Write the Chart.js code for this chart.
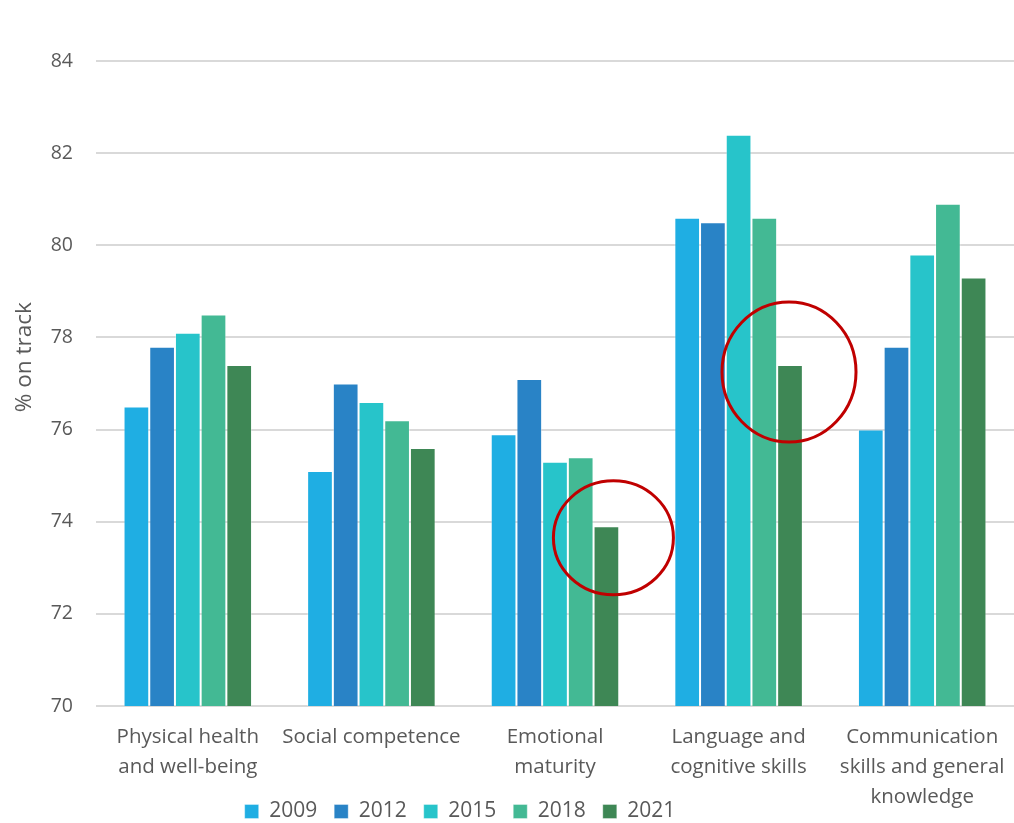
<!DOCTYPE html>
<html>
<head>
<meta charset="utf-8">
<script src="https://cdn.jsdelivr.net/npm/chart.js@4"></script>
<style>
  html, body { margin: 0; padding: 0; background: #fff; }
  #wrap { width: 1014px; height: 823px; }
</style>
</head>
<body>
<div id="wrap"><canvas id="domains"></canvas></div>
<script>
const domains = [
  ['Physical health', 'and well-being'],
  'Social competence',
  ['Emotional', 'maturity'],
  ['Language and', 'cognitive skills'],
  ['Communication', 'skills and general', 'knowledge']
];
const years = ['2009', '2012', '2015', '2018', '2021'];
const colors = ['#1FAEE3', '#2983C6', '#27C4CA', '#43B994', '#3E8755'];

const v2009 = [76.5, 75.1, 75.9, 80.6, 76.0];
const v2012 = [77.8, 77.0, 77.1, 80.5, 77.8];
const v2015 = [78.1, 76.6, 75.3, 82.4, 79.8];
const v2018 = [78.5, 76.2, 75.4, 80.6, 80.9];
const v2021 = [77.4, 75.6, 73.9, 77.4, 79.3];
const series = [v2009, v2012, v2015, v2018, v2021];

// red rings around the 2021 drops (domain index, centre value, px nudge)
const highlights = [
  { domain: 2, value: 73.65, dx: 7, rx: 60, ry: 57 },
  { domain: 3, value: 77.25, dx: -1, rx: 67, ry: 70 }
];

const TEXT = '#595959';
const FONT = '"Open Sans", "Liberation Sans", sans-serif';

const rings = {
  id: 'rings',
  afterDatasetsDraw(chart) {
    const { ctx, scales } = chart;
    const meta = chart.getDatasetMeta(years.length - 1);
    ctx.save();
    ctx.strokeStyle = '#C00000';
    ctx.lineWidth = 3;
    highlights.forEach(h => {
      const cx = meta.data[h.domain].x + h.dx;
      const cy = scales.y.getPixelForValue(h.value);
      ctx.beginPath();
      ctx.ellipse(cx, cy, h.rx, h.ry, 0, 0, Math.PI * 2);
      ctx.stroke();
    });
    ctx.restore();
  }
};

// legend row sits left of centre and tucks in beside the last 3-line label
const legendShift = {
  id: 'legendShift',
  afterLayout(chart) {
    const lg = chart.legend;
    lg.left -= 47;
    lg.right -= 47;
    lg.top += 9;
    lg.bottom += 9;
  }
};

new Chart(document.getElementById('domains'), {
  type: 'bar',
  data: {
    labels: domains,
    datasets: years.map((y, i) => ({
      label: y,
      data: series[i],
      backgroundColor: colors[i],
      borderColor: 'rgba(255,255,255,0.35)',
      borderWidth: 1,
      barPercentage: 1,
      categoryPercentage: 0.7
    }))
  },
  options: {
    responsive: true,
    maintainAspectRatio: false,
    animation: false,
    layout: { padding: { top: 61, left: 0, right: 0, bottom: 0 } },
    plugins: {
      legend: {
        position: 'bottom',
        labels: {
          color: TEXT,
          font: { family: FONT, size: 21 },
          boxWidth: 14,
          boxHeight: 14,
          padding: 17
        }
      },
      tooltip: { enabled: false }
    },
    scales: {
      x: {
        grid: { display: false },
        border: { display: false },
        ticks: {
          color: TEXT,
          padding: 8,
          maxRotation: 0,
          autoSkip: false,
          font: { family: FONT, size: 20.5, lineHeight: 1.47 }
        },
        afterFit(scale) {
          scale.height = 69;
          scale.paddingLeft = 0;
          scale.paddingRight = 0;
          // let the long labels run past the shortened axis box
          scale._computeLabelArea = () => undefined;
        }
      },
      y: {
        min: 70,
        max: 84,
        ticks: {
          stepSize: 2,
          color: TEXT,
          padding: 23,
          font: { family: FONT, size: 19.5 }
        },
        grid: { color: '#d9d9d9', lineWidth: 2, drawTicks: false },
        border: { display: false },
        title: {
          display: true,
          text: '         % on track',
          color: TEXT,
          padding: { top: 11, bottom: 0 },
          font: { family: FONT, size: 22.5 }
        },
        afterFit(scale) { scale.width = 96; }
      }
    }
  },
  plugins: [rings, legendShift]
});
</script>
</body>
</html>
